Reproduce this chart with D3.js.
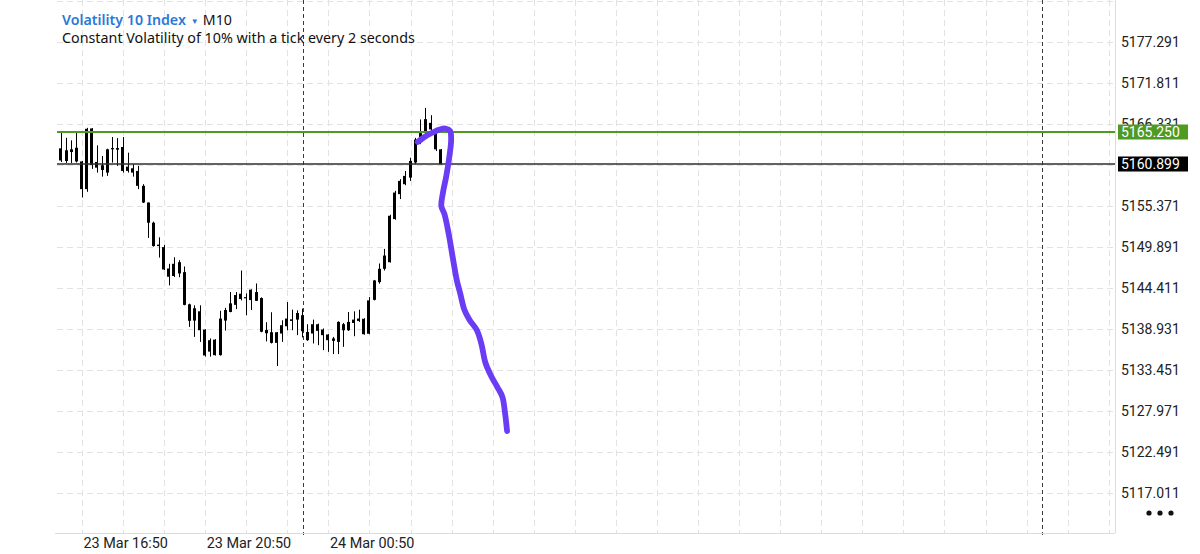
<!DOCTYPE html>
<html><head><meta charset="utf-8">
<script src="https://cdn.jsdelivr.net/npm/d3@7"></script>
<style>
html,body{margin:0;padding:0;background:#fff;}
svg{display:block;}
</style></head><body>
<svg id="chart" width="1200" height="554"></svg>
<script>
// ---------- data ----------
const symbolName = "Volatility 10 Index";
const timeframe = "M10";
const description = "Constant Volatility of 10% with a tick every 2 seconds";
const firstCandle = "2024-03-23T16:00:00Z";
const candleMinutes = 10;

const opens = [5162.40,5163.01,5161.32,5162.88,5163.09,5161.26,5157.56,5165.67,5160.43,5160.75,
5159.77,5162.88,5163.05,5163.19,5159.99,5160.35,5159.99,5158.00,5155.77,5153.07,
5149.95,5149.81,5146.95,5145.95,5147.79,5146.46,5142.16,5139.99,5141.23,5138.79,
5135.84,5137.44,5135.37,5139.99,5141.14,5142.09,5143.58,5142.96,5142.73,5143.80,
5143.00,5138.30,5138.43,5137.01,5138.26,5139.23,5140.16,5140.12,5140.70,5138.47,
5138.26,5139.50,5138.79,5138.13,5137.28,5137.14,5139.50,5138.70,5139.67,5140.26,
5140.23,5138.23,5142.76,5145.13,5146.91,5147.79,5153.56,5156.89,5158.22,5159.10,
5161.12,5163.85,5165.18,5166.42,5165.54,5162.88];
const highs = [5163.20,5165.22,5164.42,5164.08,5165.09,5161.32,5165.75,5165.71,5163.41,5161.99,
5162.96,5164.52,5164.38,5164.52,5162.43,5160.88,5160.66,5158.22,5155.77,5153.21,
5151.12,5150.10,5147.58,5148.45,5148.06,5147.22,5142.25,5142.03,5142.03,5138.83,
5137.60,5137.50,5141.30,5141.69,5143.80,5143.80,5146.68,5143.62,5144.16,5144.95,
5143.09,5139.77,5141.10,5138.47,5140.03,5142.47,5141.45,5141.36,5141.59,5139.50,
5140.12,5139.59,5138.93,5138.17,5137.81,5139.90,5139.67,5141.14,5141.23,5141.45,
5140.30,5143.13,5145.42,5147.62,5149.57,5154.14,5157.33,5158.89,5159.99,5161.76,
5164.42,5166.87,5168.42,5167.44,5165.75,5162.92];
const lows = [5161.90,5161.19,5161.06,5161.06,5161.12,5156.44,5157.20,5160.26,5159.77,5159.23,
5159.33,5161.10,5160.66,5159.77,5159.77,5159.23,5157.56,5155.70,5151.04,5149.88,
5148.41,5146.75,5144.69,5145.82,5145.79,5142.03,5139.14,5137.81,5137.14,5135.17,
5135.17,5135.31,5135.31,5138.66,5141.10,5141.52,5142.69,5140.70,5141.40,5142.60,
5138.43,5137.21,5136.93,5133.91,5137.14,5138.70,5138.70,5138.04,5137.73,5137.28,
5136.93,5136.70,5136.04,5135.81,5135.51,5135.51,5136.48,5138.61,5137.90,5139.81,
5138.10,5138.17,5142.69,5144.92,5146.68,5147.75,5153.47,5156.23,5158.09,5158.66,
5160.88,5163.58,5164.88,5164.98,5162.65,5160.86];
const closes = [5162.90,5161.39,5162.75,5162.52,5161.26,5157.56,5165.62,5160.79,5161.19,5160.12,
5162.88,5163.05,5162.83,5159.99,5160.56,5159.77,5158.00,5155.77,5153.07,5149.95,
5150.14,5146.82,5145.85,5147.58,5146.29,5142.09,5139.96,5141.63,5138.70,5135.33,
5137.37,5135.37,5140.26,5141.40,5142.29,5143.40,5142.87,5143.13,5144.12,5142.63,
5138.50,5138.74,5137.01,5138.43,5139.37,5140.26,5139.94,5141.00,5138.57,5137.37,
5139.50,5138.61,5138.04,5137.37,5137.60,5139.81,5138.70,5139.81,5140.12,5139.94,
5138.17,5142.69,5145.35,5146.91,5148.68,5154.00,5157.10,5158.66,5159.33,5161.32,
5164.18,5165.05,5166.91,5165.54,5162.88,5160.899];

const priceTicks = [5117.011,5122.491,5127.971,5133.451,5138.931,5144.411,5149.891,
5155.371,5160.851,5166.331,5171.811,5177.291,5182.771];
const timeLabelTicks = ["2024-03-23T16:50:00Z","2024-03-23T20:50:00Z","2024-03-24T00:50:00Z"];
const timeLabelTexts = ["23 Mar 16:50","23 Mar 20:50","24 Mar 00:50"];
const gridStart = "2024-03-23T16:50:00Z";
const gridMinutes = 80;
const daySeparators = ["2024-03-24T00:00:00Z","2024-03-25T00:00:00Z"];
const levelPrice = 5165.250;
const lastPrice = 5160.899;

// hand-drawn annotation stroke
const drawTimes = ["2024-03-24T03:44:00Z","2024-03-24T03:57:00Z","2024-03-24T04:11:00Z","2024-03-24T04:27:00Z",
"2024-03-24T04:38:00Z","2024-03-24T04:47:00Z","2024-03-24T04:49:00Z","2024-03-24T04:46:00Z","2024-03-24T04:40:00Z",
"2024-03-24T04:33:00Z","2024-03-24T04:30:00Z","2024-03-24T04:36:00Z","2024-03-24T04:44:00Z","2024-03-24T04:52:00Z",
"2024-03-24T05:00:00Z","2024-03-24T05:07:00Z","2024-03-24T05:15:00Z","2024-03-24T05:25:00Z","2024-03-24T05:39:00Z",
"2024-03-24T05:48:00Z","2024-03-24T05:56:00Z","2024-03-24T06:08:00Z","2024-03-24T06:19:00Z","2024-03-24T06:29:00Z",
"2024-03-24T06:34:00Z","2024-03-24T06:38:00Z"];
const drawPrices = [5163.86,5164.53,5165.06,5165.53,5165.66,5165.33,5164.12,5162.12,5159.44,
5157.04,5155.30,5154.23,5151.69,5148.49,5145.41,5143.54,5141.40,5140.07,5138.73,
5136.86,5134.32,5132.45,5131.11,5129.77,5127.64,5125.23];

// ---------- layout ----------
const L = 57, R = 1115, T = 0, B = 533;
const svg = d3.select("#chart");
const x = d3.scaleUtc()
  .domain([new Date("2024-03-23T16:50:00Z"), new Date("2024-03-25T00:00:00Z")])
  .range([82, 1042]);
const y = d3.scaleLinear().domain([5117.011, 5177.291]).range([492.5, 41.5]);

svg.append("defs").append("clipPath").attr("id","plot")
  .append("rect").attr("x",L).attr("y",T).attr("width",R-L).attr("height",B-T);

const px = v => Math.round(v) + 0.5;

// horizontal grid
svg.append("g").selectAll("line").data(priceTicks).join("line")
  .attr("x1",L).attr("x2",R)
  .attr("y1",d=>px(y(d))).attr("y2",d=>px(y(d)))
  .attr("stroke","#e2e2e2").attr("stroke-dasharray","6,4");

// vertical grid
const g0 = new Date(gridStart);
const gridTimes = d3.range(0, 40).map(k => d3.utcMinute.offset(g0, k*gridMinutes))
  .filter(t => x(t) >= L && x(t) <= R - 2);
svg.append("g").selectAll("line").data(gridTimes).join("line")
  .attr("x1",d=>px(x(d))).attr("x2",d=>px(x(d)))
  .attr("y1",T).attr("y2",B)
  .attr("stroke","#e2e2e2").attr("stroke-dasharray","6,4");

// day separators
svg.append("g").selectAll("line").data(daySeparators.map(s=>new Date(s))).join("line")
  .attr("x1",d=>px(x(d))).attr("x2",d=>px(x(d)))
  .attr("y1",T).attr("y2",B+2)
  .attr("stroke","#3a3a3a").attr("stroke-dasharray","4,3");

// frame lines
svg.append("line").attr("x1",L-2).attr("x2",R).attr("y1",B+0.5).attr("y2",B+0.5).attr("stroke","#dcdcdc");
svg.append("line").attr("x1",R+0.5).attr("x2",R+0.5).attr("y1",T).attr("y2",B).attr("stroke","#dcdcdc");

// candles
const t0 = new Date(firstCandle);
const candles = opens.map((o,i)=>({t:d3.utcMinute.offset(t0,i*candleMinutes),o,h:highs[i],l:lows[i],c:closes[i]}));
const cg = svg.append("g").attr("clip-path","url(#plot)");
cg.selectAll("line.wick").data(candles).join("line").attr("class","wick")
  .attr("x1",d=>px(x(d.t)-0.5)).attr("x2",d=>px(x(d.t)-0.5))
  .attr("y1",d=>y(d.h)).attr("y2",d=>y(d.l))
  .attr("stroke","#000").attr("stroke-width",1);
cg.selectAll("rect.body").data(candles).join("rect").attr("class","body")
  .attr("x",d=>Math.round(x(d.t))-2).attr("width",3)
  .attr("y",d=>y(Math.max(d.o,d.c)))
  .attr("height",d=>Math.max(1.2, y(Math.min(d.o,d.c))-y(Math.max(d.o,d.c))))
  .attr("fill","#000");

// level lines
svg.append("line").attr("x1",L).attr("x2",R).attr("y1",Math.round(y(levelPrice))).attr("y2",Math.round(y(levelPrice)))
  .attr("stroke","#4e9a22").attr("stroke-width",1.8);
svg.append("line").attr("x1",L).attr("x2",R).attr("y1",Math.round(y(lastPrice))).attr("y2",Math.round(y(lastPrice)))
  .attr("stroke","#2e2e2e").attr("stroke-width",1.6);

// annotation stroke
const drawPts = drawTimes.map((t,i)=>({t:new Date(t),p:drawPrices[i]}));
svg.append("path").datum(drawPts)
  .attr("d", d3.line().x(d=>x(d.t)).y(d=>y(d.p)).curve(d3.curveCatmullRom.alpha(0.5)))
  .attr("fill","none").attr("stroke","#6a3cf3").attr("stroke-width",5.8)
  .attr("stroke-linecap","round").attr("stroke-linejoin","round");

// right price axis
const yAxis = d3.axisRight(y)
  .tickValues(priceTicks.filter(v => y(v) > 10))
  .tickSize(0).tickPadding(6)
  .tickFormat(d3.format(".3f"));
const ya = svg.append("g").attr("transform",`translate(${R},1)`).call(yAxis);
ya.select(".domain").remove();
ya.selectAll("text").attr("font-family","Roboto").attr("font-size",14).attr("fill","#222");

// price boxes
function priceBox(v, fill){
  const cy = Math.round(y(v));
  svg.append("rect").attr("x",R+3).attr("y",cy-7.5).attr("width",70).attr("height",15).attr("fill",fill);
  svg.append("text").attr("x",R+6).attr("y",cy).attr("dy","0.36em")
    .attr("font-family","Roboto").attr("font-size",14).attr("fill","#fff")
    .text(d3.format(".3f")(v));
}
priceBox(levelPrice, "#4e9a22");
priceBox(lastPrice, "#000");

// bottom time axis
const xAxis = d3.axisBottom(x)
  .tickValues(timeLabelTicks.map(s=>new Date(s)))
  .tickSize(0).tickPadding(5)
  .tickFormat((d,i)=>timeLabelTexts[i]);
const xa = svg.append("g").attr("transform",`translate(0,${B})`).call(xAxis);
xa.select(".domain").remove();
xa.selectAll("text").attr("text-anchor","start").attr("x",1)
  .attr("font-family","Roboto").attr("font-size",14.4).attr("fill","#222");

// title
const title = svg.append("text").attr("x",62).attr("y",25)
  .attr("font-family","'Noto Sans', sans-serif").attr("font-size",14.2);
title.append("tspan").attr("fill","#2b78d6").attr("font-weight",600).text(symbolName);
title.append("tspan").attr("fill","#2b78d6").attr("font-size",8).attr("dx",5).attr("dy",-1).text("▼");
title.append("tspan").attr("fill","#111").attr("dx",4).attr("dy",1).text(timeframe);
svg.append("text").attr("x",62).attr("y",43)
  .attr("font-family","'Noto Sans', sans-serif").attr("font-size",14.3).attr("fill","#111")
  .text(description);

// menu dots
svg.append("g").selectAll("circle").data([0,1,2]).join("circle")
  .attr("cx",d=>1149 + d*11).attr("cy",513).attr("r",2.6).attr("fill","#111");
</script>
</body></html>
